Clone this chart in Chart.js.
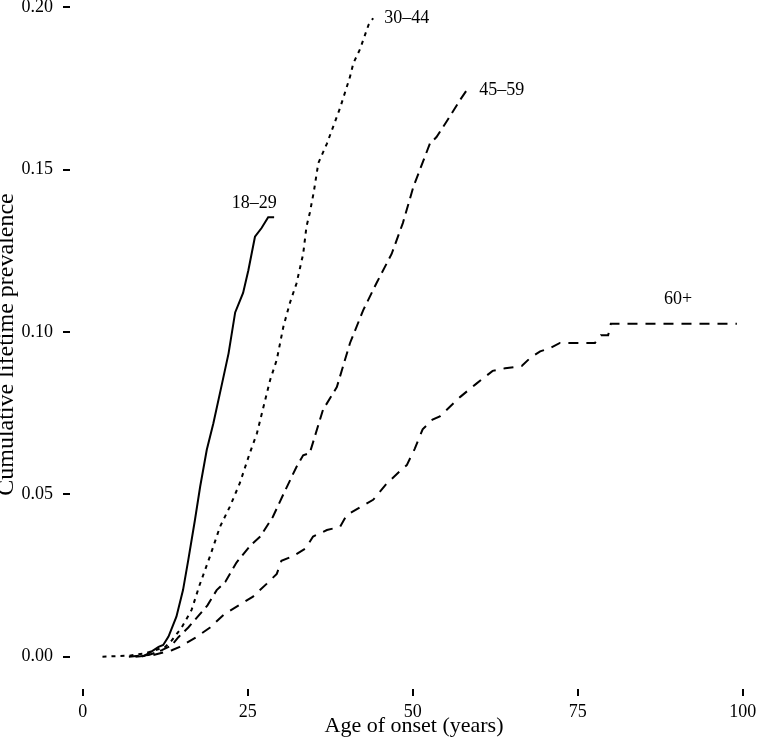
<!DOCTYPE html>
<html>
<head>
<meta charset="utf-8">
<script src="https://cdn.jsdelivr.net/npm/chart.js@4/dist/chart.umd.min.js"></script>
<style>
  html, body { margin: 0; padding: 0; background: #fff; }
  #wrap { width: 758px; height: 744px; }
</style>
</head>
<body>
<div id="wrap"><canvas id="onsetChart"></canvas></div>
<script>
const xTicks = [0, 25, 50, 75, 100]
const yTicks = [0, 0.05, 0.10, 0.15, 0.20]

const groups = ['18–29', '30–44', '45–59', '60+']

// ages of onset and cumulative prevalence
const age1829 = [9, 10, 11.5, 12.2, 13, 14.2, 15.2, 16, 17, 17.8, 18.8, 19.8, 21.1, 22.1, 23.1, 24.3, 25.1, 26.1, 27.1, 28.1, 29]
const prev1829 = [0, 0.001, 0.003, 0.0036, 0.0062, 0.0123, 0.0205, 0.0298, 0.042, 0.0524, 0.0637, 0.0719, 0.084, 0.0934, 0.106, 0.112, 0.119, 0.1293, 0.132, 0.1353, 0.1353]

const age3044 = [3, 7, 9.4, 11, 12.5, 13.5, 15, 16.5, 17.7, 19.3, 20.8, 22.3, 23.8, 25.3, 26.4, 27.4, 28.4, 29.4, 30.4, 31.4, 32.4, 33.4, 33.9, 34.4, 35, 35.7, 37, 39, 40.5, 41, 42, 43.3, 44]
const prev3044 = [0, 0.0003, 0.001, 0.002, 0.003, 0.005, 0.009, 0.0144, 0.022, 0.031, 0.04, 0.0462, 0.0534, 0.0626, 0.0688, 0.077, 0.0852, 0.0914, 0.1016, 0.109, 0.115, 0.124, 0.1324, 0.1366, 0.143, 0.152, 0.158, 0.169, 0.1786, 0.1827, 0.187, 0.1945, 0.1966]

const age4559 = [7, 10, 12, 13.5, 14.5, 16, 17, 18.9, 20.3, 21.6, 23.3, 25.3, 26.9, 28.8, 30.4, 32.4, 33.4, 34.4, 36.4, 38.5, 40.5, 42.5, 44.5, 46.8, 48.5, 50.1, 52.6, 53.6, 55.2, 57.2, 58.2]
const prev4559 = [0, 0.0005, 0.002, 0.0035, 0.006, 0.009, 0.0113, 0.0158, 0.0205, 0.023, 0.029, 0.034, 0.037, 0.043, 0.05, 0.0585, 0.062, 0.0627, 0.076, 0.083, 0.0966, 0.1067, 0.115, 0.124, 0.1335, 0.1447, 0.158, 0.16, 0.165, 0.1715, 0.1745]

const age60 = [8, 10.7, 13.5, 14.7, 17.2, 19.3, 21.4, 23.8, 25.8, 27.9, 29.4, 30.1, 31.9, 33.8, 34.9, 37, 39, 40, 42, 44, 46.1, 48, 49.1, 50.3, 51.5, 53, 54.1, 57.2, 59.6, 62.1, 64, 66.5, 67.8, 69.3, 70.8, 72.3, 77.6, 78.5, 79.6, 80, 99.1]
const prev60 = [0, 0.0005, 0.002, 0.003, 0.006, 0.009, 0.013, 0.016, 0.0185, 0.0225, 0.0255, 0.0295, 0.031, 0.0334, 0.037, 0.039, 0.04, 0.0436, 0.046, 0.0483, 0.0534, 0.057, 0.059, 0.064, 0.07, 0.073, 0.074, 0.08, 0.084, 0.088, 0.0888, 0.0895, 0.092, 0.094, 0.095, 0.0966, 0.0966, 0.099, 0.099, 0.1025, 0.1025]

// where each group name sits, in data units
const labelAge = [26, 49.1, 63.5, 90.2]
const labelPrev = [0.1397, 0.1965, 0.1745, 0.1099]

const serif = 'Liberation Serif'

const toPoints = (ages, prevs) => ages.map((a, i) => ({x: a, y: prevs[i]}))

const series = [
  {ages: age1829, prevs: prev1829, dash: []},
  {ages: age3044, prevs: prev3044, dash: [4, 5]},
  {ages: age4559, prevs: prev4559, dash: [10, 6]},
  {ages: age60, prevs: prev60, dash: [10, 8]}
]

const groupLabels = {
  id: 'groupLabels',
  afterDatasetsDraw(chart) {
    const {ctx, scales: {x, y}} = chart
    ctx.save()
    ctx.font = '18px "' + serif + '"'
    ctx.fillStyle = '#000'
    ctx.textAlign = 'center'
    ctx.textBaseline = 'middle'
    groups.forEach((g, i) => {
      ctx.fillText(g, x.getPixelForValue(labelAge[i]), y.getPixelForValue(labelPrev[i]))
    })
    ctx.restore()
  }
}

const tickGrid = {drawOnChartArea: false, drawTicks: true, tickLength: 7, color: '#000', lineWidth: 2}

var ctx = document.getElementById('onsetChart').getContext('2d')

var onsetChart = new Chart(ctx, {
  type: 'line',
  data: {
    datasets: series.map((s, i) => ({
      label: groups[i],
      data: toPoints(s.ages, s.prevs),
      borderColor: '#000',
      borderWidth: 2,
      borderDash: s.dash,
      borderCapStyle: 'butt',
      pointRadius: 0,
      tension: 0,
      fill: false
    }))
  },
  options: {
    responsive: true,
    maintainAspectRatio: false,
    animation: false,
    layout: {padding: 0},
    plugins: {
      legend: {display: false},
      tooltip: {enabled: false}
    },
    scales: {
      x: {
        type: 'linear',
        min: -1.92,
        max: 102.3,
        afterBuildTicks: axis => { axis.ticks = xTicks.map(v => ({value: v})) },
        afterFit: axis => { axis.height = 55; axis.paddingLeft = 0; axis.paddingRight = 0 },
        border: {display: false},
        grid: tickGrid,
        ticks: {
          color: '#000',
          font: {family: serif, size: 18},
          padding: 5,
          maxRotation: 0,
          autoSkip: false,
          callback: v => String(v)
        },
        title: {
          display: true,
          text: 'Age of onset (years)',
          color: '#000',
          font: {family: serif, size: 22, lineHeight: 1.2},
          padding: {top: 0, bottom: 5}
        }
      },
      y: {
        type: 'linear',
        min: -0.00995,
        max: 0.2022,
        afterBuildTicks: axis => { axis.ticks = yTicks.map(v => ({value: v})) },
        afterFit: axis => { axis.width = 70; axis.paddingTop = 0; axis.paddingBottom = 0 },
        border: {display: false},
        grid: tickGrid,
        ticks: {
          color: '#000',
          font: {family: serif, size: 18},
          padding: 10,
          autoSkip: false,
          callback: v => v.toFixed(2)
        },
        title: {
          display: true,
          text: 'Cumulative lifetime prevalence',
          color: '#000',
          font: {family: serif, size: 24, lineHeight: 0.6},
          padding: 0
        }
      }
    }
  },
  plugins: [groupLabels]
})
</script>
</body>
</html>
